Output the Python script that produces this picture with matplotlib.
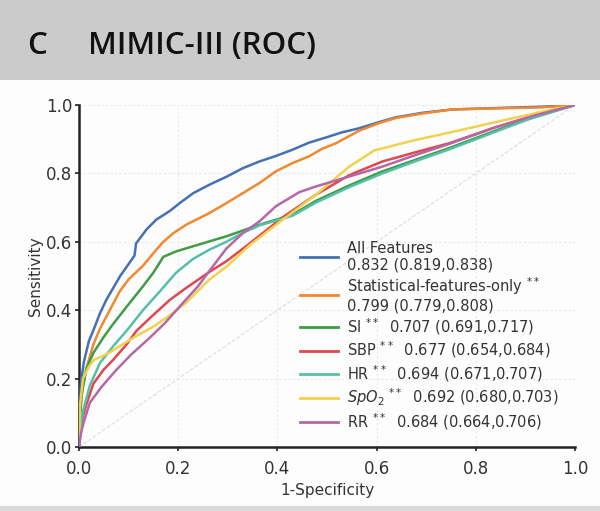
import matplotlib
matplotlib.use("Agg")
import matplotlib.pyplot as plt
from matplotlib.patches import Rectangle

plt.rcParams['font.family'] = ['DejaVu Sans']
plt.rcParams['mathtext.fontset'] = 'dejavusans'

# ---- data ----
all_fpr = [0, 0.001, 0.004, 0.01, 0.02, 0.03, 0.042, 0.055, 0.069, 0.083, 0.10, 0.112, 0.115,
           0.136, 0.156, 0.183, 0.203, 0.23, 0.263, 0.297, 0.33, 0.364, 0.397, 0.43, 0.464,
           0.498, 0.53, 0.565, 0.605, 0.639, 0.692, 0.752, 0.84, 0.933, 1.0]
all_tpr = [0, 0.10, 0.19, 0.25, 0.31, 0.345, 0.39, 0.43, 0.465, 0.50, 0.535, 0.56, 0.595,
           0.636, 0.665, 0.69, 0.713, 0.742, 0.767, 0.79, 0.815, 0.835, 0.851, 0.869, 0.89,
           0.905, 0.92, 0.932, 0.950, 0.964, 0.977, 0.987, 0.991, 0.995, 1.0]

stat_fpr = [0, 0.002, 0.008, 0.015, 0.029, 0.042, 0.062, 0.082, 0.10, 0.129, 0.149, 0.17, 0.19,
            0.216, 0.263, 0.297, 0.33, 0.364, 0.397, 0.43, 0.464, 0.49, 0.518, 0.565, 0.605,
            0.639, 0.692, 0.752, 0.84, 0.933, 1.0]
stat_tpr = [0, 0.10, 0.18, 0.23, 0.30, 0.345, 0.40, 0.455, 0.49, 0.53, 0.565, 0.60, 0.625,
            0.65, 0.684, 0.713, 0.742, 0.772, 0.806, 0.83, 0.85, 0.872, 0.888, 0.925, 0.947,
            0.962, 0.975, 0.987, 0.990, 0.993, 1.0]

si_fpr = [0, 0.002, 0.005, 0.015, 0.029, 0.049, 0.069, 0.096, 0.129, 0.15, 0.17, 0.196, 0.23,
          0.297, 0.364, 0.43, 0.478, 0.545, 0.612, 0.679, 0.746, 0.84, 0.906, 1.0]
si_tpr = [0, 0.08, 0.15, 0.23, 0.275, 0.32, 0.36, 0.41, 0.47, 0.51, 0.556, 0.572, 0.587,
          0.616, 0.65, 0.679, 0.72, 0.765, 0.806, 0.84, 0.874, 0.925, 0.96, 1.0]

sbp_fpr = [0, 0.003, 0.008, 0.015, 0.029, 0.049, 0.069, 0.096, 0.116, 0.149, 0.183, 0.216,
           0.263, 0.297, 0.344, 0.411, 0.478, 0.545, 0.612, 0.679, 0.746, 0.84, 0.92, 1.0]
sbp_tpr = [0, 0.05, 0.09, 0.125, 0.185, 0.225, 0.255, 0.30, 0.34, 0.385, 0.43, 0.465,
           0.512, 0.543, 0.595, 0.672, 0.738, 0.795, 0.835, 0.862, 0.888, 0.935, 0.97, 1.0]

hr_fpr = [0, 0.003, 0.009, 0.022, 0.042, 0.069, 0.096, 0.129, 0.163, 0.196, 0.23, 0.263,
          0.297, 0.33, 0.364, 0.43, 0.478, 0.545, 0.612, 0.679, 0.746, 0.84, 0.906, 1.0]
hr_tpr = [0, 0.06, 0.11, 0.18, 0.245, 0.295, 0.34, 0.40, 0.455, 0.51, 0.55, 0.577,
          0.60, 0.626, 0.648, 0.676, 0.715, 0.76, 0.80, 0.836, 0.87, 0.922, 0.958, 1.0]

spo2_fpr = [0, 0.002, 0.008, 0.02, 0.03, 0.042, 0.06, 0.082, 0.116, 0.15, 0.183, 0.216,
            0.263, 0.297, 0.344, 0.411, 0.478, 0.545, 0.595, 0.679, 0.746, 0.84, 0.933, 1.0]
spo2_tpr = [0, 0.12, 0.20, 0.235, 0.255, 0.262, 0.275, 0.295, 0.325, 0.352, 0.385, 0.422,
            0.49, 0.527, 0.59, 0.665, 0.738, 0.82, 0.867, 0.898, 0.919, 0.95, 0.98, 1.0]

rr_fpr = [0, 0.004, 0.009, 0.022, 0.045, 0.075, 0.105, 0.14, 0.173, 0.21, 0.24, 0.263, 0.297,
          0.33, 0.364, 0.397, 0.444, 0.478, 0.545, 0.612, 0.679, 0.746, 0.84, 0.92, 1.0]
rr_tpr = [0, 0.04, 0.07, 0.13, 0.175, 0.225, 0.27, 0.316, 0.362, 0.422, 0.47, 0.515, 0.58,
          0.625, 0.66, 0.704, 0.745, 0.762, 0.791, 0.82, 0.854, 0.886, 0.935, 0.97, 1.0]

labels = [
    "All Features\n0.832 (0.819,0.838)",
    "Statistical-features-only $^{**}$\n0.799 (0.779,0.808)",
    "SI $^{**}$  0.707 (0.691,0.717)",
    "SBP $^{**}$  0.677 (0.654,0.684)",
    "HR $^{**}$  0.694 (0.671,0.707)",
    "$SpO_2$ $^{**}$  0.692 (0.680,0.703)",
    "RR $^{**}$  0.684 (0.664,0.706)",
]
colors = ['#4670b3', '#f0892f', '#3f9c45', '#e0474f', '#55bfa8', '#f0d24c', '#b567a8']
xticks = [0.0, 0.2, 0.4, 0.6, 0.8, 1.0]
yticks = [0.0, 0.2, 0.4, 0.6, 0.8, 1.0]

curves = [(all_fpr, all_tpr), (stat_fpr, stat_tpr), (si_fpr, si_tpr), (sbp_fpr, sbp_tpr),
          (hr_fpr, hr_tpr), (spo2_fpr, spo2_tpr), (rr_fpr, rr_tpr)]

W, H = 600, 511
fig = plt.figure(figsize=(6, 5.11), dpi=100, facecolor='#fdfdfd')

# header band and bottom strip
fig.patches.append(Rectangle((0, 1 - 80 / H), 1, 80 / H, transform=fig.transFigure,
                             facecolor='#cbcbcb', edgecolor='none', zorder=0))
fig.patches.append(Rectangle((0, 0), 1, 5 / H, transform=fig.transFigure,
                             facecolor='#d9d9d9', edgecolor='none', zorder=0))
fig.text(27 / W, 1 - 54 / H, "C", fontsize=22.5, fontweight='semibold', family='Open Sans',
         color='#111111', va='baseline', ha='left')
fig.text(88 / W, 1 - 54 / H, "MIMIC-III (ROC)", fontsize=22.5, fontweight='semibold',
         family='Open Sans', color='#111111', va='baseline', ha='left')

left, right, top, bottom = 79, 575, 105, 447
ax = fig.add_axes([left / W, 1 - bottom / H, (right - left) / W, (bottom - top) / H])
ax.set_facecolor('none')

ax.plot([0, 1], [0, 1], color='#e0e0e0', lw=0.9, ls=(0, (3, 1.5)), zorder=1)
for (fx, ty), c, lab in zip(curves, colors, labels):
    ax.plot(fx, ty, color=c, lw=1.8, label=lab, zorder=3, solid_joinstyle='round')

ax.set_xlim(0, 1)
ax.set_ylim(0, 1)
ax.set_xticks(xticks)
ax.set_yticks(yticks)
ax.set_xticklabels([f"{v:.1f}" for v in xticks])
ax.set_yticklabels([f"{v:.1f}" for v in yticks])
ax.grid(True, color='#e8e8e8', lw=0.8, ls=(0, (2, 2)), zorder=0)
for s in ['top', 'right']:
    ax.spines[s].set_visible(False)
for s in ['left', 'bottom']:
    ax.spines[s].set_linewidth(1.8)
    ax.spines[s].set_color('#222222')
ax.tick_params(axis='both', length=3, width=1.2, color='#222222', labelsize=12,
               labelcolor='#333333')
ax.tick_params(axis='x', pad=6)
ax.tick_params(axis='y', pad=2)
ax.set_xlabel("1-Specificity", fontsize=11, color='#333333', labelpad=4)
ax.set_ylabel("Sensitivity", fontsize=11, color='#333333', labelpad=2)

leg = ax.legend(loc='upper left', bbox_to_anchor=(300 / W, 1 - 241 / H),
                bbox_transform=fig.transFigure, frameon=False, fontsize=10.5,
                handlelength=2.6, handletextpad=0.6, labelspacing=0.2,
                borderpad=0, borderaxespad=0, labelcolor='#333333')
for t in leg.get_texts():
    t.set_linespacing(1.1 if "\n" in t.get_text() else 1.0)
for l in leg.get_lines():
    l.set_linewidth(2.0)

fig.savefig("out.png", dpi=100, facecolor=fig.get_facecolor())
